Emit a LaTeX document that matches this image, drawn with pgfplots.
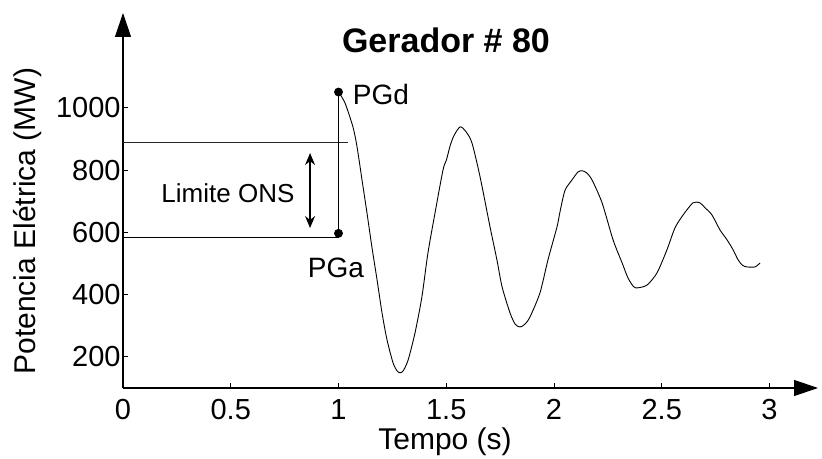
\documentclass[border=0pt]{standalone}
\usepackage{fontspec}
\setmainfont{Liberation Sans}
\usepackage{pgfplots}
\pgfplotsset{compat=1.18}
\usetikzlibrary{arrows.meta}
\begin{document}
\begin{tikzpicture}
\begin{axis}[
  scale only axis, width=347.5pt, height=187.5pt,
  at={(0,0)}, anchor=south west,
  xmin=0, xmax=3.225, ymin=100, ymax=1305,
  axis lines=left,
  axis line style={line width=0.6pt, -{Triangle[length=12pt,width=8pt]}},
  tick align=inside, major tick length=2.5pt,
  tick style={line width=0.5pt, black},
  xtick={0,0.5,1,1.5,2,2.5,3},
  ytick={200,400,600,800,1000},
  /pgf/number format/assume math mode=true,
  /pgf/number format/1000 sep={},
  ticklabel style={font=\fontsize{14.5}{14.5}\selectfont},
  xticklabel style={yshift=-2.2pt},
  yticklabel style={xshift=2.3pt},
  xlabel={Tempo (s)},
  ylabel={Potencia Elétrica (MW)},
  label style={font=\fontsize{15}{15}\selectfont},
  xlabel style={at={(axis description cs:0.4633,-0.144)}, anchor=center},
  ylabel style={at={(axis description cs:-0.1367,0.445)}, anchor=center},
  clip=false,
]
\addplot[black!85, line width=0.6pt] coordinates {(0,889) (1.044,889)};
\addplot[black, line width=0.5pt] coordinates {(0,585) (1.0,585)};
\addplot[black, line width=0.6pt] coordinates {(1.0,597) (1.0,1051)};
\addplot[only marks, mark=*, mark size=2pt, black] coordinates {(1.0,597) (1.0,1051)};
\addplot[black, line width=0.6pt, {Stealth[length=6pt,width=5pt]}-{Stealth[length=6pt,width=5pt]}] coordinates {(0.868,614) (0.868,855)};
\addplot[black, line width=0.45pt, smooth, tension=0.45] coordinates {
(1.000,1051) (1.030,1016) (1.067,939) (1.086,875) (1.109,769) (1.132,663)
(1.155,553) (1.179,447) (1.202,341) (1.225,255) (1.253,181) (1.272,155) (1.285,149)
(1.300,155) (1.323,190) (1.355,277) (1.387,393) (1.415,534) (1.448,663) (1.485,801)
(1.501,833) (1.517,876) (1.535,910) (1.564,939) (1.590,925) (1.619,888) (1.657,778)
(1.703,618) (1.735,512) (1.759,425) (1.796,341) (1.820,305) (1.842,296) (1.865,305) (1.889,329)
(1.935,406) (1.972,512) (2.014,618) (2.028,667) (2.051,735) (2.084,769)
(2.111,794) (2.130,798) (2.150,792) (2.176,769) (2.223,695) (2.274,576) (2.316,502)
(2.343,454) (2.370,425) (2.390,422) (2.432,431) (2.478,470) (2.524,544) (2.561,614)
(2.599,656) (2.645,695) (2.677,695) (2.701,679) (2.733,656) (2.770,608)
(2.803,576) (2.831,544) (2.854,512) (2.875,494) (2.896,489) (2.933,489) (2.956,502)
};
\node[font=\fontsize{17}{17}\selectfont\bfseries] at (axis description cs:0.4647,0.928) {Gerador \# 80};
\node[font=\fontsize{14}{14}\selectfont] at (axis cs:1.197,1042) {PGd};
\node[font=\fontsize{14}{14}\selectfont] at (axis cs:0.988,486) {PGa};
\node[font=\fontsize{13}{13}\selectfont] at (axis cs:0.487,727) {Limite ONS};
\end{axis}
\pgfresetboundingbox
\path[use as bounding box] (-61.5pt,-35.5pt) rectangle (349.5pt,194pt);
\end{tikzpicture}
\end{document}
